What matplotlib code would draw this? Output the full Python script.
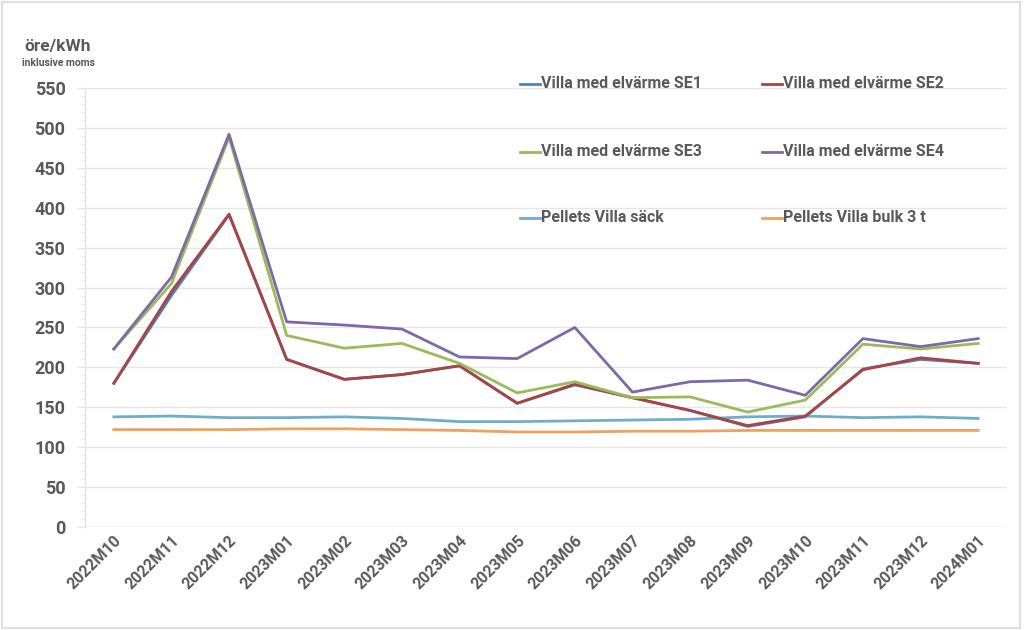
"""Electricity vs pellet prices for villas, monthly, öre/kWh incl. VAT."""
import matplotlib

matplotlib.use("Agg")
import matplotlib.pyplot as plt
from matplotlib.patches import Rectangle
from matplotlib.ticker import MultipleLocator
import numpy as np

months = [
    "2022M10", "2022M11", "2022M12", "2023M01", "2023M02", "2023M03", "2023M04", "2023M05",
    "2023M06", "2023M07", "2023M08", "2023M09", "2023M10", "2023M11", "2023M12", "2024M01",
]

se1 = [180, 290, 391, 210, 185, 191, 202, 155, 178, 162, 146, 126, 138, 198, 210, 205]
se2 = [180, 295, 392, 210, 185, 191, 202, 155, 179, 162, 146, 127, 139, 197, 212, 205]
se3 = [223, 305, 488, 240, 224, 230, 205, 168, 182, 162, 163, 144, 159, 229, 223, 230]
se4 = [223, 313, 492, 257, 253, 248, 213, 211, 250, 169, 182, 184, 165, 236, 226, 236]
pellets_sack = [138, 139, 137, 137, 138, 136, 132, 132, 133, 134, 135, 138, 139, 137, 138, 136]
pellets_bulk = [122, 122, 122, 123, 123, 122, 121, 119, 119, 120, 120, 121, 121, 121, 121, 121]

series = [
    ("Villa med elvärme SE1", se1, "#4F81BD"),
    ("Villa med elvärme SE2", se2, "#A94442"),
    ("Villa med elvärme SE3", se3, "#9BBB59"),
    ("Villa med elvärme SE4", se4, "#7E68A8"),
    ("Pellets Villa säck", pellets_sack, "#6FAECB"),
    ("Pellets Villa bulk 3 t", pellets_bulk, "#F0A060"),
]

TEXT = "#595959"
GRID = "#E6E6E6"
FONT = "Roboto"

fig = plt.figure(figsize=(10.24, 6.30), dpi=100)
fig.patches.append(Rectangle((0.002, 0.003), 0.994, 0.994, transform=fig.transFigure,
                             fill=False, edgecolor="#E0E0E0", linewidth=1.5))
ax = fig.add_axes([85 / 1024, 103 / 630, 922 / 1024, 439 / 630])

x = np.arange(len(months))
# later series drawn on top, pellets underneath
for idx, (name, vals, color) in enumerate(series):
    z = 3 + idx if idx < 4 else 2
    ax.plot(x, vals, color=color, linewidth=2.0, zorder=z)

ax.set_xlim(-0.5, len(months) - 0.5)
ax.set_ylim(0, 550)
ax.yaxis.set_major_locator(MultipleLocator(50))
ax.yaxis.set_minor_locator(MultipleLocator(10))
ax.grid(True, axis="y", color=GRID, linewidth=1.0, zorder=0)
ax.set_axisbelow(True)

for side in ["top", "right", "bottom"]:
    ax.spines[side].set_visible(False)
ax.spines["left"].set_color("#E3E3E3")
ax.spines["left"].set_linewidth(1.0)

ax.tick_params(axis="y", which="major", length=6, color=GRID, pad=8, labelcolor=TEXT)
ax.tick_params(axis="y", which="minor", length=3, color=GRID)
ax.tick_params(axis="x", length=0, pad=4, labelcolor=TEXT)
ax.axhline(0, color=GRID, linewidth=1.0, zorder=1)

ax.set_xticks(x)
ax.set_xticklabels(months, rotation=45, ha="right", rotation_mode="anchor",
                   fontsize=11.5, fontweight="bold", family=FONT)
for lbl in ax.get_yticklabels():
    lbl.set_fontsize(13)
    lbl.set_fontweight("bold")
    lbl.set_family(FONT)

# unit label
fig.text(58 / 1024, 1 - 46 / 630, "öre/kWh", ha="center", va="center",
         fontsize=12.5, fontweight="bold", color=TEXT, family=FONT)
fig.text(58 / 1024, 1 - 63 / 630, "inklusive moms", ha="center", va="center",
         fontsize=7.5, fontweight="bold", color=TEXT, family=FONT)

# legend laid out as a 2x3 grid inside the plot area
leg_rows = [84, 152, 218]
leg_cols = [520, 762]
for i, (name, vals, color) in enumerate(series):
    row, col = divmod(i, 2)
    y0 = 1 - leg_rows[row] / 630
    x0 = leg_cols[col] / 1024
    fig.lines.append(plt.Line2D([x0, x0 + 20 / 1024], [y0, y0], color=color, linewidth=2.0,
                                transform=fig.transFigure))
    fig.text(x0 + 21 / 1024, y0, name, ha="left", va="center", fontsize=11.5,
             fontweight="bold", color=TEXT, family=FONT)

fig.savefig("out.png", dpi=100, facecolor="white")
